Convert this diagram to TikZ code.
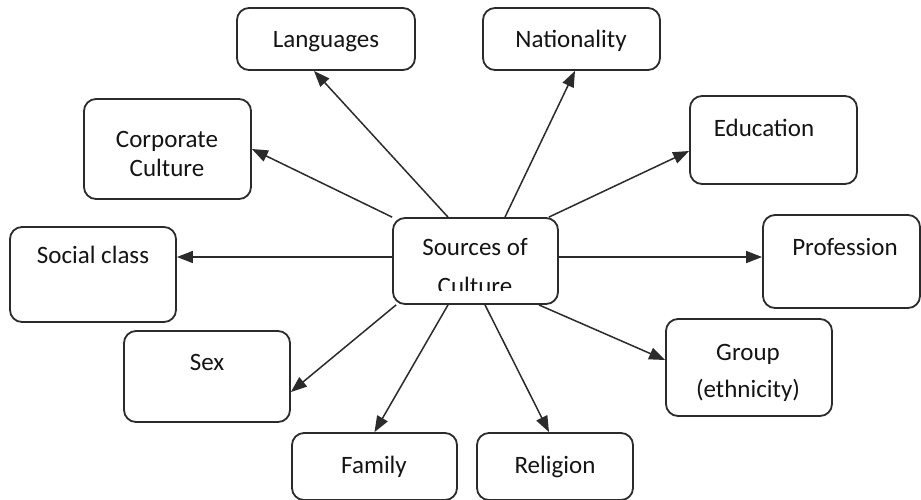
\documentclass[tikz,border=0pt]{standalone}
\usepackage{fontspec}
\setmainfont{Carlito}
\usetikzlibrary{arrows.meta}
\definecolor{edge}{HTML}{2B2B2B}
\definecolor{ink}{HTML}{141414}
\begin{document}
\begin{tikzpicture}[x=1pt,y=-1pt,
  box/.style={draw=edge, line width=1.8pt, rounded corners=12pt, rectangle, inner sep=0pt, fill=white},
  txt/.style={anchor=base, inner sep=0pt, text=ink, font=\fontsize{25}{29}\selectfont},
  arr/.style={draw=edge, line width=1.5pt, -{Triangle[length=16pt,width=12pt]}}]
\clip (0,0) rectangle (921,499);
\fill[white] (0,0) rectangle (921,499);
% boxes
\node[box, minimum width=178pt, minimum height=62pt] (lang) at (326,39) {};
\node[box, minimum width=177pt, minimum height=62pt] (nat) at (571.5,39) {};
\node[box, minimum width=167pt, minimum height=100pt] (corp) at (167.5,149) {};
\node[box, minimum width=167pt, minimum height=88pt] (edu) at (773.5,140) {};
\node[box, minimum width=166pt, minimum height=95pt] (soc) at (93,274.5) {};
\node[box, minimum width=165pt, minimum height=86pt] (src) at (475.5,261) {};
\node[box, minimum width=157pt, minimum height=93pt] (prof) at (841.5,261.5) {};
\node[box, minimum width=166pt, minimum height=91pt] (sex) at (207,376.5) {};
\node[box, minimum width=166pt, minimum height=97pt] (grp) at (749,367.5) {};
\node[box, minimum width=165pt, minimum height=67pt] (fam) at (374.5,466.5) {};
\node[box, minimum width=156pt, minimum height=67pt] (rel) at (555,466.5) {};
% texts
\node[txt] (langt) at (326,47) {Languages};
\node[txt] (natt) at (571,47) {Nationality};
\node[txt] (corpt1) at (167,147) {Corporate};
\node[txt] (corpt2) at (167,176) {Culture};
\node[txt] (edut) at (764,136) {Education};
\node[txt] (soct) at (93,263) {Social class};
\node[txt] (srct1) at (475,255) {Sources of};
\begin{scope}
\clip (393,218) rectangle (558,290);
\node[txt] (srct2) at (475,294) {Culture};
\end{scope}
\node[txt] (proft) at (845,255) {Profession};
\node[txt] (sext) at (207,370) {Sex};
\node[txt] (grpt1) at (748,360) {Group};
\node[txt] (grpt2) at (748,397) {(ethnicity)};
\node[txt] (famt) at (374,473) {Family};
\node[txt] (relt) at (555,473) {Religion};
% arrows
\draw[arr] ([xshift=-27.5pt]src.north) -- ([xshift=-12pt]lang.south);
\draw[arr] (src.north west) -- (corp.east);
\draw[arr] ([xshift=29.5pt]src.north) -- ([xshift=3.5pt]nat.south);
\draw[arr] ([xshift=-10pt]src.north east) -- ([yshift=-11pt]edu.west);
\draw[arr] ([yshift=4pt]src.west) -- ([yshift=17.5pt]soc.east);
\draw[arr] ([yshift=4pt]src.east) -- ([yshift=4.5pt]prof.west);
\draw[arr] ([xshift=4pt]src.south west) -- ([yshift=-15.5pt]sex.east);
\draw[arr] ([xshift=-27.5pt]src.south) -- (fam.north);
\draw[arr] ([xshift=9.5pt]src.south) -- ([xshift=-6pt]rel.north);
\draw[arr] ([xshift=-20pt]src.south east) -- ([yshift=7.5pt]grp.west);
\end{tikzpicture}
\end{document}
